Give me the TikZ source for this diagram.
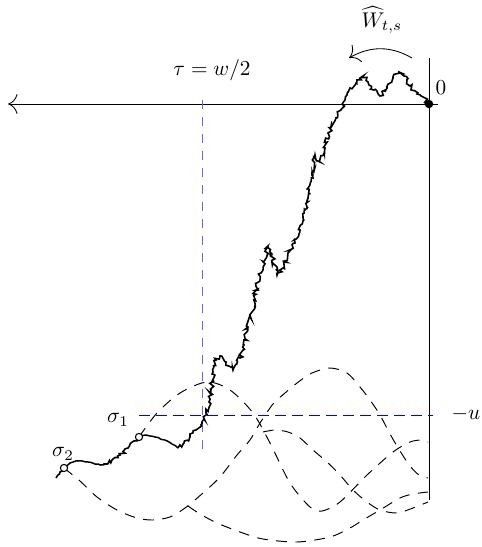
\documentclass[tikz,border=0pt]{standalone}
\usepackage{amsmath, amssymb}
\usetikzlibrary{arrows.meta, decorations.pathmorphing}

\begin{document}
\begin{tikzpicture}[
  x=0.47pt, y=-0.47pt, >={To[scale=1.8]},
  traj/.style={dash pattern=on 5pt off 4pt, line width=0.45pt},
  ulevel/.style={blue, dash pattern=on 5pt off 3pt},
  tauline/.style={blue!60, dash pattern=on 4pt off 4pt},
  bm/.style={line width=0.75pt, decorate,
    decoration={random steps, segment length=1pt, amplitude=1.1pt}},
  bmflat/.style={line width=0.7pt, decorate,
    decoration={random steps, segment length=1.5pt, amplitude=0.35pt}},
  opendot/.style={circle, draw, fill=white, inner sep=0pt, minimum size=3.4pt, line width=0.5pt},
  fulldot/.style={circle, fill=black, inner sep=0pt, minimum size=4pt}
]
  \useasboundingbox (0,0) rectangle (482,547);
  \pgfmathsetseed{11}

  \coordinate (O) at (429,104);
  \coordinate (s1) at (139,437);
  \coordinate (s2) at (64,468);
  \coordinate (f1) at (100,465);
  \coordinate (f2) at (146,435);
  \coordinate (f3) at (178,448);

  % axes
  \draw[->] (438,104) -- (8,104);
  \draw (429,58) -- (429,500);
  \node (zero) at (441,88) {$0$};

  % time reversal
  \draw[->] (412,58) to[bend right=30] (349,58);
  \node (what) at (382,20) {$\widehat{W}_{t,s}$};

  % levels
  \draw[tauline] (202,100) -- (202,449);
  \node (tau) at (212,70) {$\tau = w/2$};
  \draw[ulevel] (139,415) -- (433,415);
  \node (mu) at (466,414) {$-u$};

  % trajectories
  \draw[traj] plot[smooth] coordinates {(s1) (157,413) (180,393) (207,382) (230,390)
    (253,413) (270,443) (290,483) (310,507) (322,511) (340,502) (367,475) (393,452)
    (410,442) (422,440) (428,442)};
  \draw[traj] plot[smooth] coordinates {(s2) (80,481) (97,497) (117,510) (137,518)
    (153,520) (170,517) (185,508) (203,493) (220,477) (237,455) (250,440) (260,423)
    (273,404) (285,393) (297,383) (312,373) (330,368) (347,373) (360,387) (370,400)
    (380,415) (390,434) (400,451) (410,466) (419,475) (428,478)};
  \draw[traj] plot[smooth] coordinates {(188,506) (200,514) (217,523) (240,532)
    (263,539) (297,542) (330,537) (350,528) (363,520) (380,510) (400,498) (413,494)
    (428,492)};
  \draw[traj] plot[smooth] coordinates {(263,432) (275,430) (288,432) (300,438)
    (313,450) (327,462) (340,475) (353,490) (367,502) (380,510) (397,513) (413,508)
    (428,502)};

  % path
  \draw[bm] plot coordinates {(56,478) (60,472) (s2)};
  \draw[bmflat] plot coordinates {(s2) (70,463) (78,461) (88,462) (95,464) (f1)};
  \draw[bm] plot coordinates {(f1) (104,464) (112,460) (120,455) (128,448) (134,441) (s1)};
  \draw[bmflat] plot coordinates {(s1) (f2) (155,437) (165,440) (172,444) (f3)};
  \draw[bm] plot coordinates {(f3) (184,443) (190,437) (196,430)
    (202,422) (206,413) (209,402) (211,390) (213,372) (216,360) (220,356) (226,362)
    (233,370) (240,358) (244,345) (248,327) (252,312) (256,290) (259,275) (263,270)
    (268,246) (272,254) (277,275) (283,268) (288,253) (295,243) (300,230) (305,210)
    (308,198) (312,173) (315,155) (320,162) (325,148) (328,133) (335,121) (341,110)
    (345,100) (350,88) (357,80) (363,76) (368,82) (374,90) (380,96) (387,88) (393,78)
    (399,72) (404,76) (410,86) (417,94) (423,97) (O)};

  \node[opendot] (p1) at (s1) {};
  \node[opendot] (p2) at (s2) {};
  \node[fulldot] (p0) at (O) {};
  \node (lab1) at (118,420) {$\sigma_1$};
  \node (lab2) at (63,454) {$\sigma_2$};
\end{tikzpicture}
\end{document}
